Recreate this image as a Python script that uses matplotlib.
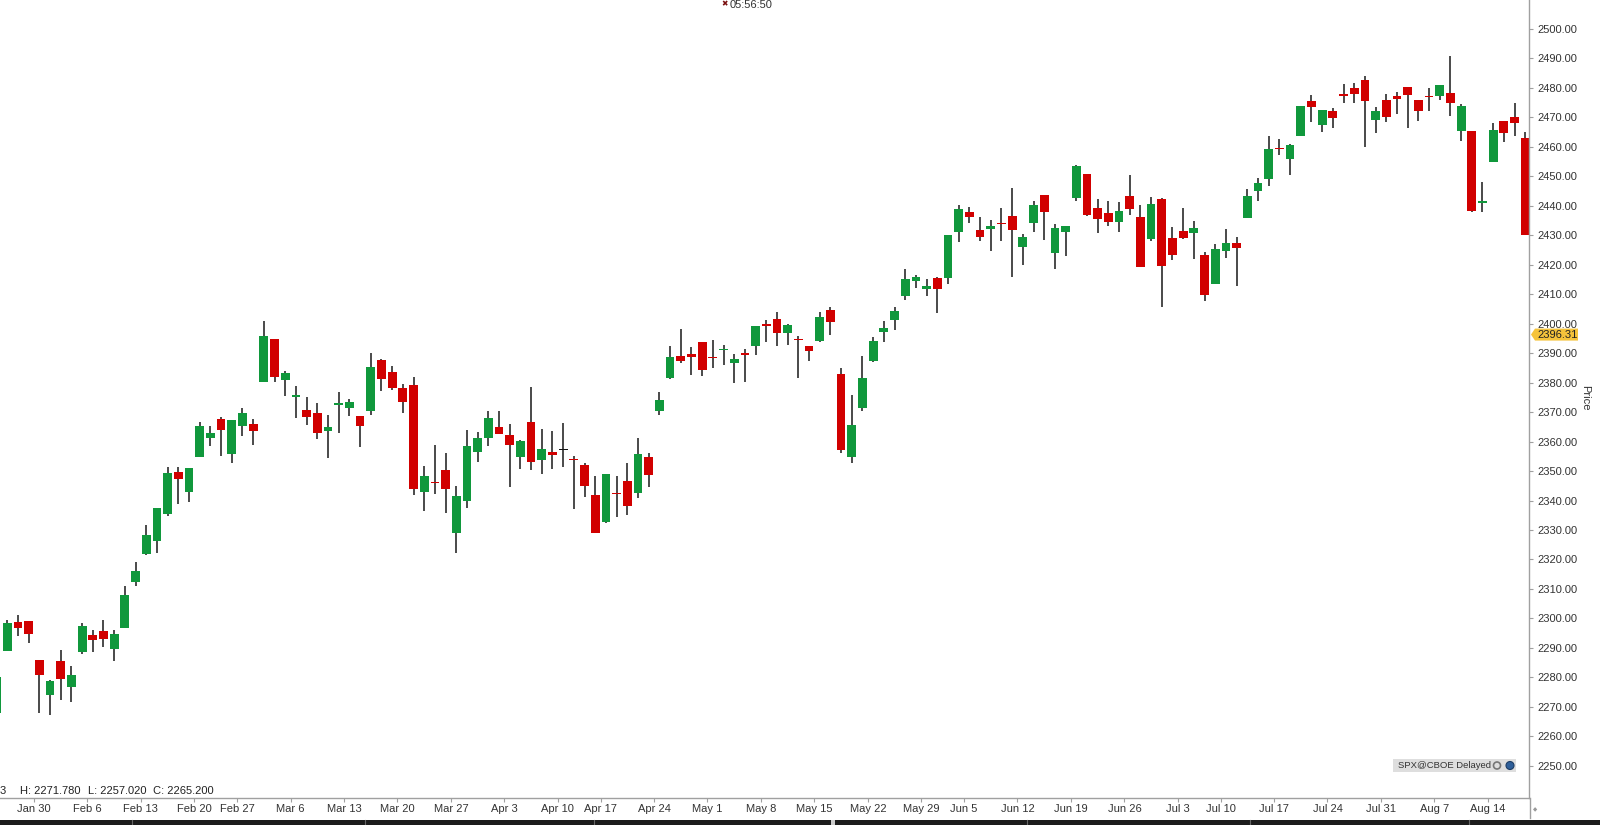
import matplotlib
matplotlib.use("Agg")
import matplotlib.pyplot as plt
import numpy as np
import pandas as pd
from matplotlib.patches import Rectangle, Polygon, Circle
from matplotlib.lines import Line2D
from matplotlib.transforms import IdentityTransform

plt.rcParams['font.family'] = ['Liberation Sans', 'DejaVu Sans']

# SPX daily candles, Jan 24 - Aug 17 2017
dates = [
    "2017-01-24", "2017-01-25", "2017-01-26", "2017-01-27",
    "2017-01-30", "2017-01-31", "2017-02-01", "2017-02-02", "2017-02-03",
    "2017-02-06", "2017-02-07", "2017-02-08", "2017-02-09", "2017-02-10",
    "2017-02-13", "2017-02-14", "2017-02-15", "2017-02-16", "2017-02-17",
    "2017-02-21", "2017-02-22", "2017-02-23", "2017-02-24",
    "2017-02-27", "2017-02-28", "2017-03-01", "2017-03-02", "2017-03-03",
    "2017-03-06", "2017-03-07", "2017-03-08", "2017-03-09", "2017-03-10",
    "2017-03-13", "2017-03-14", "2017-03-15", "2017-03-16", "2017-03-17",
    "2017-03-20", "2017-03-21", "2017-03-22", "2017-03-23", "2017-03-24",
    "2017-03-27", "2017-03-28", "2017-03-29", "2017-03-30", "2017-03-31",
    "2017-04-03", "2017-04-04", "2017-04-05", "2017-04-06", "2017-04-07",
    "2017-04-10", "2017-04-11", "2017-04-12", "2017-04-13",
    "2017-04-17", "2017-04-18", "2017-04-19", "2017-04-20", "2017-04-21",
    "2017-04-24", "2017-04-25", "2017-04-26", "2017-04-27", "2017-04-28",
    "2017-05-01", "2017-05-02", "2017-05-03", "2017-05-04", "2017-05-05",
    "2017-05-08", "2017-05-09", "2017-05-10", "2017-05-11", "2017-05-12",
    "2017-05-15", "2017-05-16", "2017-05-17", "2017-05-18", "2017-05-19",
    "2017-05-22", "2017-05-23", "2017-05-24", "2017-05-25", "2017-05-26",
    "2017-05-30", "2017-05-31", "2017-06-01", "2017-06-02",
    "2017-06-05", "2017-06-06", "2017-06-07", "2017-06-08", "2017-06-09",
    "2017-06-12", "2017-06-13", "2017-06-14", "2017-06-15", "2017-06-16",
    "2017-06-19", "2017-06-20", "2017-06-21", "2017-06-22", "2017-06-23",
    "2017-06-26", "2017-06-27", "2017-06-28", "2017-06-29", "2017-06-30",
    "2017-07-03", "2017-07-05", "2017-07-06", "2017-07-07",
    "2017-07-10", "2017-07-11", "2017-07-12", "2017-07-13", "2017-07-14",
    "2017-07-17", "2017-07-18", "2017-07-19", "2017-07-20", "2017-07-21",
    "2017-07-24", "2017-07-25", "2017-07-26", "2017-07-27", "2017-07-28",
    "2017-07-31", "2017-08-01", "2017-08-02", "2017-08-03", "2017-08-04",
    "2017-08-07", "2017-08-08", "2017-08-09", "2017-08-10", "2017-08-11",
    "2017-08-14", "2017-08-15", "2017-08-16", "2017-08-17",
]

opens = [
    2267.88, 2288.88, 2298.63, 2299.02,
    2286.01, 2274.02, 2285.59, 2276.69, 2288.54,
    2294.28, 2295.87, 2289.55, 2296.70, 2312.27,
    2321.72, 2326.12, 2335.58, 2349.64, 2343.01,
    2354.91, 2361.11, 2367.50, 2355.73,
    2365.23, 2366.08, 2380.13, 2394.75, 2380.92,
    2375.23, 2370.74, 2369.81, 2363.49, 2372.52,
    2371.56, 2368.55, 2370.34, 2387.71, 2383.71,
    2378.24, 2379.32, 2343.00, 2345.97, 2350.42,
    2329.11, 2339.79, 2356.54, 2361.31, 2364.82,
    2362.34, 2354.76, 2366.59, 2353.79, 2356.59,
    2357.16, 2353.92, 2352.15, 2341.98,
    2332.62, 2342.53, 2346.79, 2342.69, 2354.74,
    2370.33, 2381.51, 2388.98, 2389.70, 2393.68,
    2388.50, 2391.05, 2386.50, 2389.79, 2392.37,
    2399.94, 2401.58, 2396.79, 2394.84, 2392.44,
    2393.98, 2404.55, 2382.95, 2354.69, 2371.37,
    2387.21, 2397.04, 2401.41, 2409.54, 2414.50,
    2411.67, 2415.63, 2415.65, 2431.28,
    2437.83, 2431.92, 2432.03, 2434.27, 2436.39,
    2425.88, 2434.15, 2443.75, 2424.14, 2431.24,
    2442.55, 2450.66, 2439.31, 2437.40, 2434.65,
    2443.32, 2436.34, 2428.70, 2442.38, 2429.20,
    2431.39, 2430.78, 2423.44, 2413.52,
    2424.51, 2427.35, 2435.75, 2444.99, 2449.16,
    2459.50, 2455.88, 2463.85, 2475.56, 2467.40,
    2472.04, 2477.88, 2479.97, 2482.76, 2469.12,
    2475.94, 2477.10, 2480.38, 2476.03, 2476.88,
    2477.14, 2478.35, 2465.35, 2465.38, 2441.04,
    2454.96, 2468.66, 2470.07, 2462.95,
]

highs = [
    2284.63, 2299.55, 2300.99, 2299.02,
    2286.01, 2279.09, 2289.14, 2283.97, 2298.31,
    2296.18, 2299.40, 2295.91, 2311.08, 2319.23,
    2331.58, 2337.58, 2351.30, 2351.31, 2351.16,
    2366.71, 2365.13, 2368.26, 2367.34,
    2371.54, 2367.79, 2400.98, 2394.75, 2383.89,
    2378.80, 2375.12, 2373.09, 2369.08, 2376.86,
    2374.42, 2368.55, 2390.01, 2388.10, 2385.71,
    2379.55, 2381.93, 2351.81, 2358.92, 2356.22,
    2344.90, 2363.78, 2363.36, 2370.42, 2370.35,
    2365.87, 2360.53, 2378.36, 2364.16, 2363.76,
    2366.37, 2355.22, 2352.72, 2348.26,
    2349.14, 2348.35, 2352.63, 2361.37, 2356.18,
    2376.98, 2392.48, 2398.16, 2392.10, 2393.68,
    2394.49, 2392.93, 2389.82, 2391.43, 2399.29,
    2401.36, 2403.87, 2399.74, 2395.72, 2392.44,
    2404.05, 2405.77, 2384.87, 2375.74, 2389.06,
    2395.46, 2400.85, 2405.58, 2418.71, 2416.68,
    2415.26, 2415.99, 2430.06, 2440.23,
    2439.55, 2436.21, 2435.28, 2439.27, 2446.20,
    2430.38, 2441.49, 2443.75, 2433.95, 2433.15,
    2453.82, 2450.66, 2442.23, 2441.62, 2441.40,
    2450.42, 2440.15, 2442.97, 2442.73, 2432.71,
    2439.17, 2434.90, 2424.28, 2426.92,
    2432.00, 2429.30, 2445.76, 2449.32, 2463.54,
    2462.82, 2460.92, 2473.83, 2477.62, 2472.54,
    2473.10, 2481.24, 2481.69, 2484.04, 2473.53,
    2477.96, 2478.51, 2480.38, 2476.03, 2480.00,
    2480.95, 2490.87, 2474.41, 2465.38, 2448.09,
    2468.22, 2468.90, 2474.93, 2465.02,
]

lows = [
    2266.68, 2288.88, 2294.08, 2291.62,
    2268.04, 2267.21, 2272.44, 2271.65, 2287.88,
    2288.57, 2290.16, 2285.38, 2296.61, 2311.10,
    2321.42, 2322.17, 2334.81, 2338.87, 2339.58,
    2354.91, 2358.34, 2355.09, 2352.87,
    2361.87, 2358.96, 2380.13, 2380.17, 2375.39,
    2367.98, 2365.51, 2361.01, 2354.54, 2363.04,
    2368.52, 2358.18, 2368.94, 2377.18, 2377.64,
    2369.66, 2341.90, 2336.45, 2342.13, 2335.74,
    2322.25, 2337.63, 2352.94, 2358.58, 2362.60,
    2344.73, 2350.72, 2350.52, 2348.90, 2350.74,
    2351.50, 2337.25, 2341.18, 2328.95,
    2332.51, 2334.54, 2335.05, 2340.91, 2344.51,
    2369.19, 2381.15, 2386.78, 2382.68, 2382.36,
    2384.83, 2385.82, 2379.75, 2380.35, 2389.38,
    2393.92, 2392.44, 2392.79, 2381.74, 2387.19,
    2393.94, 2396.05, 2356.21, 2352.72, 2370.43,
    2386.92, 2393.88, 2397.99, 2408.01, 2412.20,
    2409.43, 2403.59, 2413.54, 2427.71,
    2434.32, 2428.12, 2424.75, 2427.94, 2415.70,
    2419.97, 2431.28, 2428.34, 2418.53, 2422.88,
    2441.79, 2436.60, 2430.74, 2433.27, 2431.11,
    2437.03, 2419.38, 2428.02, 2405.70, 2421.65,
    2428.69, 2422.05, 2407.70, 2413.52,
    2422.27, 2412.79, 2435.75, 2441.69, 2446.69,
    2457.16, 2450.34, 2463.85, 2468.43, 2465.06,
    2466.32, 2474.91, 2474.94, 2459.93, 2464.66,
    2468.53, 2471.14, 2466.48, 2468.85, 2472.08,
    2475.88, 2470.32, 2462.08, 2437.75, 2437.85,
    2454.96, 2461.61, 2463.86, 2430.01,
]

closes = [
    2280.07, 2298.37, 2296.68, 2294.69,
    2280.90, 2278.87, 2279.55, 2280.85, 2297.42,
    2292.56, 2293.08, 2294.67, 2307.87, 2316.10,
    2328.25, 2337.58, 2349.25, 2347.22, 2351.16,
    2365.38, 2362.82, 2363.81, 2367.34,
    2369.75, 2363.64, 2395.96, 2381.92, 2383.12,
    2375.31, 2368.39, 2362.98, 2364.87, 2372.60,
    2373.47, 2365.45, 2385.26, 2381.38, 2378.25,
    2373.47, 2344.02, 2348.45, 2345.96, 2343.98,
    2341.59, 2358.57, 2361.13, 2368.06, 2362.72,
    2358.84, 2360.16, 2352.95, 2357.49, 2355.54,
    2357.16, 2353.78, 2344.93, 2328.95,
    2349.01, 2342.19, 2338.17, 2355.84, 2348.69,
    2374.15, 2388.61, 2387.45, 2388.77, 2384.20,
    2388.33, 2391.17, 2388.13, 2389.52, 2399.29,
    2399.38, 2396.92, 2399.63, 2394.44, 2390.90,
    2402.32, 2400.67, 2357.03, 2365.72, 2381.73,
    2394.02, 2398.42, 2404.39, 2415.07, 2415.82,
    2412.91, 2411.80, 2430.06, 2439.07,
    2436.10, 2429.33, 2433.14, 2433.79, 2431.77,
    2429.39, 2440.35, 2437.92, 2432.46, 2433.15,
    2453.46, 2437.03, 2435.61, 2434.50, 2438.30,
    2439.07, 2419.38, 2440.69, 2419.70, 2423.41,
    2429.01, 2432.54, 2409.75, 2425.18,
    2427.43, 2425.53, 2443.25, 2447.83, 2459.27,
    2459.14, 2460.61, 2473.83, 2473.45, 2472.54,
    2469.91, 2477.13, 2477.83, 2475.42, 2472.10,
    2470.30, 2476.35, 2477.57, 2472.16, 2476.83,
    2480.91, 2474.92, 2474.02, 2438.21, 2441.32,
    2465.84, 2464.61, 2468.11, 2430.01,
]

y_ticks = np.arange(2250, 2501, 10)
last_price = 2396.31
hover_fields = ["3", "H: 2271.780", "L: 2257.020", "C: 2265.200"]

GREEN = "#10983c"
RED = "#d10000"
WICK = "#3c3c3c"
AXIS = "#a0a0a0"
TXT = "#333333"

W, H = 1600, 825
fig = plt.figure(figsize=(16, 8.25), dpi=100)
ax = fig.add_axes([0, 27 / H, 1529 / W, 798 / H])

x = np.arange(len(dates))
o = np.array(opens)
hi = np.array(highs)
lo = np.array(lows)
c = np.array(closes)
colors = np.where(c > o, GREEN, np.where(c < o, RED, "#111111"))
body_lo = np.minimum(o, c)
body_h = np.maximum(np.abs(c - o), 0.45)

ax.vlines(x, lo, hi, colors=WICK, lw=1.3, zorder=1)
ax.bar(x, body_h, bottom=body_lo, width=0.82, color=colors, lw=0, zorder=2)

# week ticks at the start of each trading week
d = pd.to_datetime(dates)
wk = d.to_period("W")
tick_pos, tick_lab = [], []
for i in range(len(d)):
    if i == 0 or wk[i] != wk[i - 1]:
        monday = d[i] - pd.Timedelta(days=d[i].weekday())
        tick_pos.append(i - 0.5)
        tick_lab.append(f"{monday.strftime('%b')} {monday.day}")
ax.set_xticks(tick_pos, tick_lab)
ax.tick_params(axis="x", length=3, width=0.8, color=AXIS, labelsize=8,
               labelcolor=TXT, pad=1.5)

ax.yaxis.tick_right()
ax.set_yticks(y_ticks, [f"{v:.2f}" for v in y_ticks])
ax.tick_params(axis="y", length=3, width=0.8, color=AXIS, labelsize=8,
               labelcolor=TXT, pad=3)

# limits after the ticks, so set_xticks does not widen the view
ax.set_xlim(0.318, 143.35)
ax.set_ylim(2239.06, 2509.84)

for s in ["top", "left"]:
    ax.spines[s].set_visible(False)
for s in ["bottom", "right"]:
    ax.spines[s].set_color(AXIS)
    ax.spines[s].set_linewidth(1)

# axis line continues past the date row
fig.add_artist(Line2D([1529.5 / W, 1529.5 / W], [7 / H, 27 / H], color=AXIS, lw=1))

# last price tag
ypx = ax.transData.transform((0, last_price))[1]
x0 = 1531
tag = Polygon([[x0, ypx], [x0 + 4, ypx + 6], [1578, ypx + 6], [1578, ypx - 6], [x0 + 4, ypx - 6]],
              closed=True, fc="#f5c33b", ec="none", transform=IdentityTransform())
fig.add_artist(tag)
fig.text(1537 / W, ypx / H, f"{last_price:.2f}", fontsize=8, color="#222222",
         ha="left", va="center")

fig.text(1585 / W, 1 - 398 / H, "Price", rotation=-90, fontsize=8, color=TXT,
         ha="center", va="center")

# hover readout, bottom left
for xp, s in zip([0, 20, 88, 153], hover_fields):
    fig.text(xp / W, 1 - 791.5 / H, s, fontsize=8, color="#222222", ha="left", va="center")

# clock at top
fig.text(725 / W, 1 - 4.5 / H, "\u2716", fontsize=5.5, color="#7a1010", ha="center", va="center")
fig.text(730 / W, 1 - 4.5 / H, "05:56:50", fontsize=8, color=TXT, ha="left", va="center")

# data source badge
fig.add_artist(Rectangle((1393 / W, 1 - 772 / H), 123 / W, 13 / H, fc="#dedede", ec="none"))
fig.text(1398 / W, 1 - 765.5 / H, "SPX@CBOE Delayed", fontsize=6.8, color="#333333",
         ha="left", va="center")
fig.add_artist(Circle((1497, H - 765.5), 3.5, fc="none", ec="#777777", lw=1.2,
                      transform=IdentityTransform()))
fig.add_artist(Circle((1510, H - 765.5), 4, fc="#2f5f9a", ec="#1d3d66", lw=0.8,
                      transform=IdentityTransform()))

fig.text(1535 / W, 1 - 810 / H, "\u25c6", fontsize=4, color="#999999", ha="center", va="center")

# scroll bar strip at the bottom
fig.add_artist(Rectangle((0, 0), 1, 5 / H, fc="#1c1c1c", ec="none"))
for sx in [132, 365, 594, 1027, 1250, 1469]:
    fig.add_artist(Line2D([sx / W, sx / W], [0, 5 / H], color="#666666", lw=0.8))
fig.add_artist(Rectangle((831 / W, 0), 4 / W, 5 / H, fc="#cccccc", ec="none"))

fig.savefig("out.png", dpi=100)
